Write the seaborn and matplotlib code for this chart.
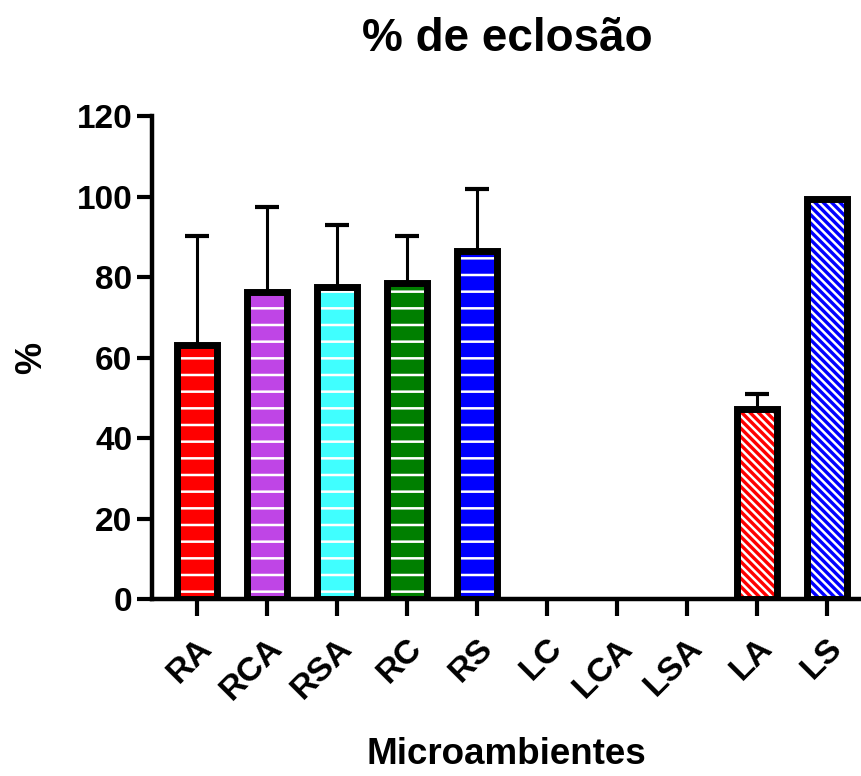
import numpy as np
import pandas as pd
import matplotlib
matplotlib.use("Agg")
import matplotlib.pyplot as plt
import seaborn as sns

categories = ["RA", "RCA", "RSA", "RC", "RS", "LC", "LCA", "LSA", "LA", "LS"]
means = [63.1, 76.4, 77.6, 78.5, 86.6, 0, 0, 0, 47.3, 99.5]
errors = [27.2, 21.0, 15.3, 11.7, 15.3, 0, 0, 0, 3.7, 0]
colors = ["#FF0000", "#BF45E6", "#40FFFF", "#007F00", "#0000FF",
          "#FFFFFF", "#FFFFFF", "#FFFFFF", "#FF0000", "#0000FF"]
hatches = ["-", "-", "-", "-", "-", "", "", "", "\\\\\\\\", "\\\\\\\\"]

sns.set_style("white")
plt.rcParams["font.family"] = ["Liberation Sans", "DejaVu Sans"]
plt.rcParams["font.weight"] = "bold"
plt.rcParams["text.color"] = "black"
plt.rcParams["axes.labelcolor"] = "black"
plt.rcParams["hatch.linewidth"] = 1.8

df = pd.DataFrame({"grupo": categories, "media": means})

fig = plt.figure(figsize=(8.62, 7.76), dpi=100)
ax = fig.add_axes([0.176, 0.228, 0.824, 0.622])

# filled bars with white hatch
sns.barplot(data=df, x="grupo", y="media", hue="grupo", palette=colors,
            width=0.57, linewidth=0, edgecolor="white", legend=False,
            saturation=1, ax=ax, zorder=2)
for patch, h in zip(ax.patches, hatches):
    patch.set_hatch(h)
    patch.set_edgecolor("white")
    patch.set_linewidth(0)

# black outline on top
n_fill = len(ax.patches)
sns.barplot(data=df, x="grupo", y="media", fill=False, width=0.57,
            edgecolor="black", linewidth=5, ax=ax, zorder=3)
for patch, m in zip(ax.patches[n_fill:], means):
    patch.set_joinstyle("miter")
    if m == 0:
        patch.set_linewidth(0)

# upward-only error bars
x = np.arange(len(categories))
err = np.array(errors)
ax.errorbar(x[err > 0], np.array(means)[err > 0],
            yerr=[np.zeros((err > 0).sum()), err[err > 0]],
            fmt="none", ecolor="black", elinewidth=2.2, capsize=8.5,
            capthick=3, zorder=1)

ax.set_ylim(0, 120)
ax.set_xlim(-0.64, 9.5)
ax.set_yticks([0, 20, 40, 60, 80, 100, 120])
sns.despine(ax=ax)
for side in ["left", "bottom"]:
    ax.spines[side].set_linewidth(3.2)
    ax.spines[side].set_color("black")
ax.spines["left"].set_bounds(0, 120)

ax.tick_params(axis="y", direction="out", length=11, width=3, labelsize=24,
               left=True, pad=3, colors="black")
ax.tick_params(axis="x", direction="out", length=12, width=3, labelsize=24.5,
               bottom=True, pad=12, colors="black")
for lbl in ax.get_xticklabels():
    lbl.set_rotation(45)
    lbl.set_ha("right")
    lbl.set_rotation_mode("anchor")
    lbl.set_fontweight("bold")
for lbl in ax.get_yticklabels():
    lbl.set_fontweight("bold")

ax.set_xlabel("Microambientes", fontsize=26.5, fontweight="bold", labelpad=22)
ax.set_ylabel("%", fontsize=26, fontweight="bold", labelpad=20)
ax.set_title("% de eclosão", fontsize=33, fontweight="bold", pad=47)

fig.savefig("out.png", dpi=100)
